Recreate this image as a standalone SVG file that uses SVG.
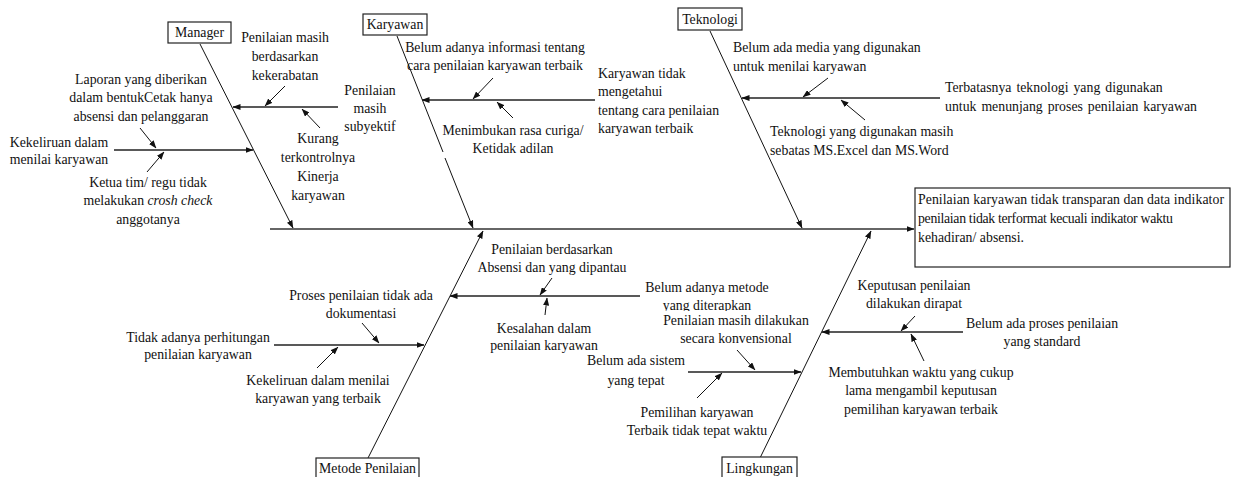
<svg xmlns="http://www.w3.org/2000/svg" width="1236" height="477" viewBox="0 0 1236 477">
  <style>
    text { font-family: "Liberation Serif", "Times New Roman", serif; font-size: 13.8px; fill: #111; }
    .c { text-anchor: middle; }
    .s { text-anchor: start; }
    .box { fill: #fff; stroke: #222; stroke-width: 1.2; }
    .spine { stroke: #333; stroke-width: 1.5; fill: none; }
    .bone { stroke: #111; stroke-width: 1; fill: none; }
    .sub { stroke: #222; stroke-width: 1.4; fill: none; }
    .tick { stroke: #111; stroke-width: 1; fill: none; }
  </style>
  <defs>
    <marker id="arr" markerUnits="userSpaceOnUse" markerWidth="8" markerHeight="6" refX="7.5" refY="3" orient="auto">
      <path d="M0,0 L8,3 L0,6 z" fill="#111"/>
    </marker>
  </defs>
  <rect width="1236" height="477" fill="#fff"/>

  <!-- connectors: spine, category bones, cause lines and pointers -->
  <g id="connectors">
    <line class="spine" x1="270" y1="229" x2="914" y2="229" marker-end="url(#arr)"/>

    <line class="bone" x1="200" y1="44" x2="293" y2="228" marker-end="url(#arr)"/>
    <line class="bone" x1="397" y1="36" x2="443" y2="152"/>
    <line class="bone" x1="445" y1="158" x2="473" y2="228" marker-end="url(#arr)"/>
    <line class="bone" x1="710" y1="31" x2="802" y2="228" marker-end="url(#arr)"/>
    <line class="bone" x1="368" y1="458" x2="483" y2="231" marker-end="url(#arr)"/>
    <line class="bone" x1="760" y1="458" x2="871" y2="231" marker-end="url(#arr)"/>

    <line class="sub" x1="338" y1="107" x2="233" y2="107" marker-end="url(#arr)"/>
    <line class="sub" x1="114" y1="150" x2="253" y2="150" marker-end="url(#arr)"/>
    <line class="sub" x1="595" y1="100" x2="422" y2="100" marker-end="url(#arr)"/>
    <line class="sub" x1="940" y1="98" x2="742" y2="98" marker-end="url(#arr)"/>
    <line class="sub" x1="640" y1="296" x2="450" y2="296" marker-end="url(#arr)"/>
    <line class="sub" x1="274" y1="345" x2="424" y2="345" marker-end="url(#arr)"/>
    <line class="sub" x1="963" y1="332" x2="822" y2="332" marker-end="url(#arr)"/>
    <line class="sub" x1="688" y1="372" x2="801" y2="372" marker-end="url(#arr)"/>

    <line class="tick" x1="285" y1="86" x2="265" y2="106" marker-end="url(#arr)"/>
    <line class="tick" x1="320" y1="128" x2="302" y2="109" marker-end="url(#arr)"/>
    <line class="tick" x1="140" y1="128" x2="156" y2="148" marker-end="url(#arr)"/>
    <line class="tick" x1="147" y1="172" x2="164" y2="152" marker-end="url(#arr)"/>
    <line class="tick" x1="493" y1="78" x2="473" y2="99" marker-end="url(#arr)"/>
    <line class="tick" x1="513" y1="118" x2="497" y2="102" marker-end="url(#arr)"/>
    <line class="tick" x1="828" y1="78" x2="803" y2="97" marker-end="url(#arr)"/>
    <line class="tick" x1="865" y1="120" x2="841" y2="100" marker-end="url(#arr)"/>
    <line class="tick" x1="552" y1="278" x2="540" y2="295" marker-end="url(#arr)"/>
    <line class="tick" x1="545" y1="315" x2="547" y2="298" marker-end="url(#arr)"/>
    <line class="tick" x1="362" y1="323" x2="379" y2="343" marker-end="url(#arr)"/>
    <line class="tick" x1="317" y1="368" x2="338" y2="347" marker-end="url(#arr)"/>
    <line class="tick" x1="915" y1="316" x2="901" y2="331" marker-end="url(#arr)"/>
    <line class="tick" x1="924" y1="361" x2="911" y2="334" marker-end="url(#arr)"/>
    <line class="tick" x1="737" y1="350" x2="755" y2="370" marker-end="url(#arr)"/>
    <line class="tick" x1="697" y1="398" x2="722" y2="373" marker-end="url(#arr)"/>
  </g>

  <!-- Manager -->
  <g id="manager">
    <rect class="box" x="168" y="22" width="63" height="21"/>
    <text class="c" x="199.5" y="37">Manager</text>
    <text class="c" x="285"><tspan x="285" y="42">Penilaian masih</tspan><tspan x="285" y="61">berdasarkan</tspan><tspan x="285" y="80">kekerabatan</tspan></text>
    <text class="c" x="370"><tspan x="370" y="95">Penilaian</tspan><tspan x="370" y="113">masih</tspan><tspan x="370" y="131">subyektif</tspan></text>
    <text class="c" x="318"><tspan x="318" y="143">Kurang</tspan><tspan x="318" y="162">terkontrolnya</tspan><tspan x="318" y="181">Kinerja</tspan><tspan x="318" y="200">karyawan</tspan></text>
    <text class="c" x="141"><tspan x="141" y="84">Laporan yang diberikan</tspan><tspan x="141" y="102">dalam bentukCetak hanya</tspan><tspan x="141" y="121">absensi dan pelanggaran</tspan></text>
    <text class="c" x="59"><tspan x="59" y="147">Kekeliruan dalam</tspan><tspan x="59" y="164">menilai karyawan</tspan></text>
    <text class="c" x="148"><tspan x="148" y="187">Ketua tim/ regu tidak</tspan><tspan x="148" y="205">melakukan <tspan font-style="italic">crosh check</tspan></tspan><tspan x="148" y="224">anggotanya</tspan></text>
  </g>

  <!-- Karyawan -->
  <g id="karyawan">
    <rect class="box" x="363" y="14" width="64" height="21"/>
    <text class="c" x="395" y="29">Karyawan</text>
    <text class="c" x="495"><tspan x="495" y="52">Belum adanya informasi tentang</tspan><tspan x="495" y="70">cara penilaian karyawan terbaik</tspan></text>
    <text class="c" x="513"><tspan x="513" y="135">Menimbukan rasa curiga/</tspan><tspan x="513" y="153">Ketidak adilan</tspan></text>
    <text class="s" x="598"><tspan x="598" y="78">Karyawan tidak</tspan><tspan x="598" y="96">mengetahui</tspan><tspan x="598" y="115">tentang cara penilaian</tspan><tspan x="598" y="133">karyawan terbaik</tspan></text>
  </g>

  <!-- Teknologi -->
  <g id="teknologi">
    <rect class="box" x="678" y="8" width="64" height="22"/>
    <text class="c" x="710" y="24">Teknologi</text>
    <text class="s" x="733"><tspan x="733" y="52">Belum ada media yang digunakan</tspan><tspan x="733" y="71">untuk menilai karyawan</tspan></text>
    <text class="s" x="770"><tspan x="770" y="136">Teknologi yang digunakan masih</tspan><tspan x="770" y="155">sebatas MS.Excel dan MS.Word</tspan></text>
    <text class="s" x="945" word-spacing="1.5"><tspan x="945" y="92">Terbatasnya teknologi yang digunakan</tspan><tspan x="945" y="111">untuk menunjang proses penilaian karyawan</tspan></text>
  </g>

  <!-- Effect -->
  <g id="effect">
    <rect class="box" x="915" y="188" width="315" height="79"/>
    <text class="s" x="918" y="204" textLength="306" lengthAdjust="spacing">Penilaian karyawan tidak transparan dan data indikator</text>
    <text class="s" x="918" y="223" textLength="255" lengthAdjust="spacing">penilaian tidak terformat kecuali indikator waktu</text>
    <text class="s" x="918" y="242" textLength="106" lengthAdjust="spacing">kehadiran/ absensi.</text>
  </g>

  <!-- Metode Penilaian -->
  <g id="metode">
    <rect class="box" x="316" y="458" width="103" height="24"/>
    <text class="c" x="367.5" y="473">Metode Penilaian</text>
    <text class="c" x="552"><tspan x="552" y="254">Penilaian berdasarkan</tspan><tspan x="552" y="272">Absensi dan yang dipantau</tspan></text>
    <text class="c" x="544"><tspan x="544" y="333">Kesalahan dalam</tspan><tspan x="544" y="350">penilaian karyawan</tspan></text>
    <text class="c" x="707"><tspan x="707" y="292">Belum adanya metode</tspan><tspan x="707" y="310">yang diterapkan</tspan></text>
    <text class="c" x="361"><tspan x="361" y="300">Proses penilaian tidak ada</tspan><tspan x="361" y="318">dokumentasi</tspan></text>
    <text class="c" x="198"><tspan x="198" y="342">Tidak adanya perhitungan</tspan><tspan x="198" y="359">penilaian karyawan</tspan></text>
    <text class="c" x="318"><tspan x="318" y="385">Kekeliruan dalam menilai</tspan><tspan x="318" y="403">karyawan yang terbaik</tspan></text>
  </g>

  <!-- Lingkungan -->
  <g id="lingkungan">
    <rect class="box" x="722" y="457" width="75" height="25"/>
    <text class="c" x="759.5" y="473">Lingkungan</text>
    <text class="c" x="914"><tspan x="914" y="290">Keputusan penilaian</tspan><tspan x="914" y="308">dilakukan dirapat</tspan></text>
    <text class="c" x="1042"><tspan x="1042" y="328">Belum ada proses penilaian</tspan><tspan x="1042" y="346">yang standard</tspan></text>
    <text class="c" x="921"><tspan x="921" y="377">Membutuhkan waktu yang cukup</tspan><tspan x="921" y="395">lama mengambil keputusan</tspan><tspan x="921" y="414">pemilihan karyawan terbaik</tspan></text>
    <rect x="660" y="311" width="150" height="36" fill="#fff"/>
    <text class="c" x="736"><tspan x="736" y="325">Penilaian masih dilakukan</tspan><tspan x="736" y="343">secara konvensional</tspan></text>
    <text class="c" x="636"><tspan x="636" y="365">Belum ada sistem</tspan><tspan x="636" y="385">yang tepat</tspan></text>
    <text class="c" x="697"><tspan x="697" y="417">Pemilihan karyawan</tspan><tspan x="697" y="435">Terbaik tidak tepat waktu</tspan></text>
  </g>
</svg>
